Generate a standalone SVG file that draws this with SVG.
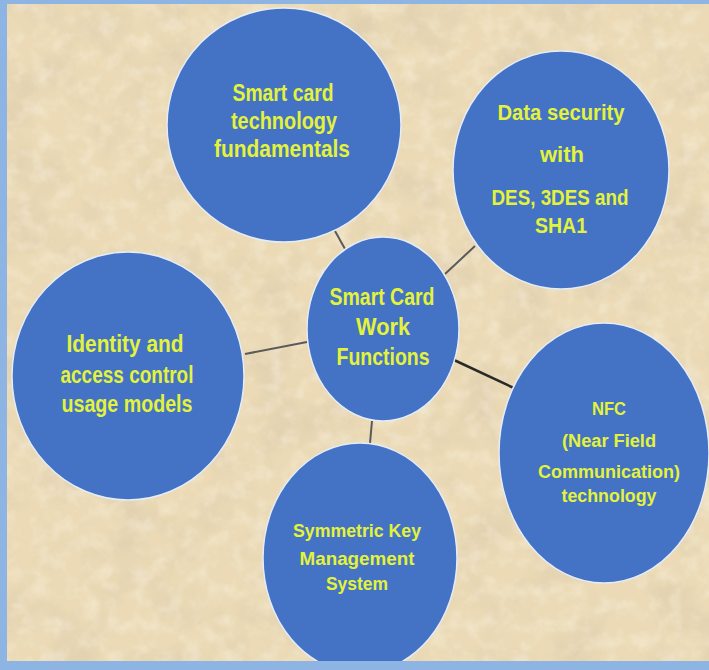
<svg xmlns="http://www.w3.org/2000/svg" width="709" height="670" viewBox="0 0 709 670">
<style>
.node ellipse{fill:#4472c4;stroke:#e4ecf7;stroke-width:1.5}
.node text{font-family:"Liberation Sans",Arial,sans-serif;font-weight:700;fill:#e3f33c;text-anchor:middle}
.connectors line{stroke:#5a5a5a;stroke-width:2}
</style>
<defs>
<filter id="paper" x="0" y="0" width="100%" height="100%">
<feTurbulence type="fractalNoise" baseFrequency="0.02" numOctaves="5" seed="7" result="n"/>
<feColorMatrix in="n" type="matrix" values="0 0 0 0 0.72  0 0 0 0 0.6  0 0 0 0 0.42  1.6 0 0 0 -0.72"/>
</filter>
<filter id="paper2" x="0" y="0" width="100%" height="100%">
<feTurbulence type="fractalNoise" baseFrequency="0.06" numOctaves="3" seed="11" result="n"/>
<feColorMatrix in="n" type="matrix" values="0 0 0 0 1  0 0 0 0 0.97  0 0 0 0 0.9  -1.6 0 0 0 0.9"/>
</filter>
<clipPath id="clipMain"><rect x="7" y="4" width="702" height="657"/></clipPath>
</defs>
<rect x="0" y="0" width="709" height="670" fill="#8db4e2"/>
<rect x="7" y="4" width="702" height="657" fill="#ebdab5"/>
<rect x="7" y="4" width="702" height="657" filter="url(#paper)"/>
<rect x="7" y="4" width="702" height="657" filter="url(#paper2)" opacity="0.45"/>
<g clip-path="url(#clipMain)">
<g class="connectors" id="connectors">
<line x1="335" y1="231" x2="345" y2="249"/>
<line x1="475" y1="246" x2="445" y2="274"/>
<line x1="245" y1="354" x2="307" y2="342"/>
<line x1="454" y1="360" x2="516" y2="389" style="stroke:#2a2a2a;stroke-width:2.5"/>
<line x1="372" y1="421" x2="370" y2="443"/>
</g>
<g class="node" id="n-fundamentals">
<ellipse cx="284" cy="125" rx="117" ry="117"/>
<text font-size="24"><tspan x="283" y="101" textLength="101" lengthAdjust="spacingAndGlyphs">Smart card</tspan><tspan x="284" y="129" textLength="106" lengthAdjust="spacingAndGlyphs">technology</tspan><tspan x="282" y="157" textLength="136" lengthAdjust="spacingAndGlyphs">fundamentals</tspan></text>
</g>
<g class="node" id="n-datasecurity">
<ellipse cx="561" cy="170" rx="108" ry="119"/>
<text font-size="22"><tspan x="561" y="120" textLength="127" lengthAdjust="spacingAndGlyphs">Data security</tspan><tspan x="562" y="162" textLength="44" lengthAdjust="spacingAndGlyphs">with</tspan><tspan x="560" y="205" textLength="137" lengthAdjust="spacingAndGlyphs">DES, 3DES  and</tspan><tspan x="561" y="233" textLength="52" lengthAdjust="spacingAndGlyphs">SHA1</tspan></text>
</g>
<g class="node" id="n-center">
<ellipse cx="383" cy="329" rx="76" ry="92"/>
<text font-size="23"><tspan x="382" y="305" textLength="105" lengthAdjust="spacingAndGlyphs">Smart Card</tspan><tspan x="383" y="335" textLength="54" lengthAdjust="spacingAndGlyphs">Work</tspan><tspan x="383" y="365" textLength="93" lengthAdjust="spacingAndGlyphs">Functions</tspan></text>
</g>
<g class="node" id="n-identity">
<ellipse cx="128" cy="376" rx="116" ry="124"/>
<text font-size="23"><tspan x="125" y="352" textLength="117" lengthAdjust="spacingAndGlyphs">Identity and</tspan><tspan x="127" y="383" textLength="133" lengthAdjust="spacingAndGlyphs">access control</tspan><tspan x="127" y="412" textLength="131" lengthAdjust="spacingAndGlyphs">usage models</tspan></text>
</g>
<g class="node" id="n-nfc">
<ellipse cx="604" cy="453" rx="105" ry="130"/>
<text font-size="18"><tspan x="609" y="415" textLength="34" lengthAdjust="spacingAndGlyphs">NFC</tspan><tspan x="609" y="447" textLength="94" lengthAdjust="spacingAndGlyphs">(Near Field</tspan><tspan x="609" y="478" textLength="142" lengthAdjust="spacingAndGlyphs">Communication)</tspan><tspan x="609" y="502" textLength="95" lengthAdjust="spacingAndGlyphs">technology</tspan></text>
</g>
<g class="node" id="n-symmetric">
<ellipse cx="360" cy="558" rx="97" ry="115"/>
<text font-size="19"><tspan x="357" y="537" textLength="128" lengthAdjust="spacingAndGlyphs">Symmetric Key</tspan><tspan x="357" y="565" textLength="115" lengthAdjust="spacingAndGlyphs">Management</tspan><tspan x="357" y="590" textLength="62" lengthAdjust="spacingAndGlyphs">System</tspan></text>
</g>
</g>
</svg>
